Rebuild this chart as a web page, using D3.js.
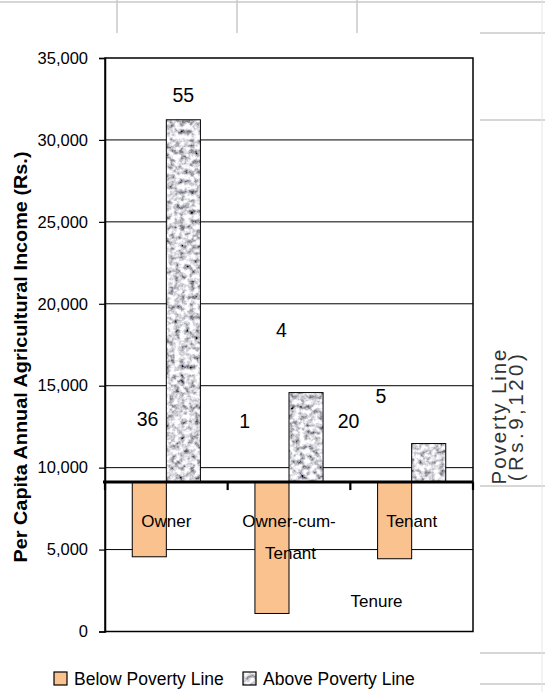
<!DOCTYPE html>
<html>
<head>
<meta charset="utf-8">
<script src="https://cdn.jsdelivr.net/npm/d3@7"></script>
<style>
  html, body { margin: 0; padding: 0; background: #fff; }
  svg { display: block; font-family: "Liberation Sans", Arial, sans-serif; }
</style>
</head>
<body>
<svg id="chart" width="545" height="692"></svg>
<script>
// ---- data ----
const categories = ["Owner", "Owner-cum-Tenant", "Tenant"];
const categoryLines = [["Owner"], ["Owner-cum-", "Tenant"], ["Tenant"]];
const seriesNames = ["Below Poverty Line", "Above Poverty Line"];
const belowValues = [4560, 1100, 4440];
const aboveValues = [31230, 14580, 11470];
const povertyLine = 9120;
const yTicks = [0, 5000, 10000, 15000, 20000, 25000, 30000, 35000];
// stray data labels as they appear in the chart: text, category, value level, offset (in bar widths)
const dataLabels = [
  { text: "55", cat: 0, level: 32300, off: 0.5 },
  { text: "36", cat: 0, level: 12520, off: -0.55 },
  { text: "4",  cat: 1, level: 17950, off: -0.22 },
  { text: "1",  cat: 1, level: 12400, off: -1.3 },
  { text: "20", cat: 1, level: 12400, off: 1.75 },
  { text: "5",  cat: 2, level: 13920, off: -0.9 }
];
const axisTitle = "Per Capita Annual Agricultural Income (Rs.)";
const xTitle = "Tenure";
const sideLines = ["Poverty Line", "(Rs.9,120)"];

// ---- layout ----
const L = 105, R = 473, T = 58, B = 631.5;
const svg = d3.select("#chart");

// faint spreadsheet cell borders behind the chart
const cellColor = "#c9c9c9";
const bg = svg.append("g").attr("stroke", cellColor).attr("stroke-width", 1.5);
bg.append("line").attr("x1", 0).attr("x2", 545).attr("y1", 2).attr("y2", 2);
[117, 237, 357].forEach(x => bg.append("line").attr("x1", x).attr("x2", x).attr("y1", 0).attr("y2", 33));
[33, 120, 486, 653, 684].forEach(yy => bg.append("line").attr("x1", 480).attr("x2", 545).attr("y1", yy).attr("y2", yy));
bg.append("line").attr("x1", 542).attr("x2", 542).attr("y1", 0).attr("y2", 692).attr("stroke", "#e6e6e6").attr("stroke-width", 1);

// texture for above-poverty bars
const defs = svg.append("defs");
const f = defs.append("filter").attr("id", "granite")
  .attr("x", 0).attr("y", 0).attr("width", 1).attr("height", 1)
  .attr("filterUnits", "objectBoundingBox");
f.append("feTurbulence").attr("type", "fractalNoise").attr("baseFrequency", 0.2)
  .attr("numOctaves", 3).attr("seed", 11).attr("result", "noise");
f.append("feColorMatrix").attr("in", "noise").attr("type", "matrix")
  .attr("values", "1.9 0 0 0 -0.26  1.9 0 0 0 -0.26  1.9 0 0 0 -0.22  0 0 0 0 1").attr("result", "gray");
f.append("feComposite").attr("in", "gray").attr("in2", "SourceGraphic").attr("operator", "in");

const y = d3.scaleLinear().domain([0, 35000]).range([B, T]);
const x0 = d3.scaleBand().domain(categories).range([L, R]).paddingInner(0).paddingOuter(0);
const x1 = d3.scaleBand().domain(seriesNames).range([0, x0.bandwidth()]).paddingInner(0).paddingOuter(0.8);
const bw = x1.bandwidth();

// gridlines
svg.append("g").selectAll("line").data(yTicks.filter(v => v > 0 && v < 35000)).join("line")
  .attr("x1", L).attr("x2", R).attr("y1", d => y(d)).attr("y2", d => y(d))
  .attr("stroke", "#000").attr("stroke-width", 1);

// bars
const rows = categories.map((c, i) => ({ c, below: belowValues[i], above: aboveValues[i] }));
const gb = svg.append("g");
gb.selectAll("rect.below").data(rows).join("rect").attr("class", "below")
  .attr("x", d => x0(d.c) + x1(seriesNames[0])).attr("width", bw)
  .attr("y", y(povertyLine)).attr("height", d => y(d.below) - y(povertyLine))
  .attr("fill", "#f9c28f").attr("stroke", "#000").attr("stroke-width", 1);
gb.selectAll("rect.abovefill").data(rows).join("rect").attr("class", "abovefill")
  .attr("x", d => x0(d.c) + x1(seriesNames[1])).attr("width", bw)
  .attr("y", d => y(d.above)).attr("height", d => y(povertyLine) - y(d.above))
  .attr("fill", "#aaa").attr("filter", "url(#granite)");
gb.selectAll("rect.aboveedge").data(rows).join("rect").attr("class", "aboveedge")
  .attr("x", d => x0(d.c) + x1(seriesNames[1])).attr("width", bw)
  .attr("y", d => y(d.above)).attr("height", d => y(povertyLine) - y(d.above))
  .attr("fill", "none").attr("stroke", "#000").attr("stroke-width", 1);

// plot border
svg.append("rect").attr("x", L).attr("y", T).attr("width", R - L).attr("height", B - T)
  .attr("fill", "none").attr("stroke", "#000").attr("stroke-width", 1.5);

// y axis
const ya = svg.append("g").attr("transform", `translate(${L},0)`)
  .call(d3.axisLeft(y).tickValues(yTicks).tickSize(6).tickPadding(11).tickFormat(d3.format(",")));
ya.select(".domain").attr("stroke", "#000").attr("stroke-width", 1.5);
ya.selectAll(".tick line").attr("stroke", "#000").attr("stroke-width", 1.2);
ya.selectAll(".tick text").attr("font-size", 16.5).attr("fill", "#000")
  .attr("font-family", "Liberation Sans, Arial, sans-serif");

// category axis at the poverty line
const yb = y(povertyLine);
const bounds = categories.map(c => x0(c)).concat([x0.range()[1]]);
svg.append("line").attr("x1", L - 2).attr("x2", R).attr("y1", yb).attr("y2", yb)
  .attr("stroke", "#000").attr("stroke-width", 3);
svg.append("g").selectAll("line").data(bounds).join("line")
  .attr("x1", d => d).attr("x2", d => d).attr("y1", yb).attr("y2", yb + 8)
  .attr("stroke", "#000").attr("stroke-width", 2.2);

// category labels
const cl = svg.append("g").attr("font-size", 17).attr("fill", "#000").attr("text-anchor", "middle");
categoryLines.forEach((lines, i) => {
  lines.forEach((t, j) => {
    cl.append("text").attr("x", x0(categories[i]) + x0.bandwidth() / 2 + j * 1.5)
      .attr("y", yb + 45 + j * 31.5).text(t);
  });
});
// x title
svg.append("text").attr("x", x0(categories[2]) + x1(seriesNames[0]) - 1).attr("y", y(1480))
  .attr("text-anchor", "middle").attr("font-size", 17).text(xTitle);

// data labels
svg.append("g").selectAll("text").data(dataLabels).join("text")
  .attr("x", d => x0(categories[d.cat]) + x0.bandwidth() / 2 + d.off * bw)
  .attr("y", d => y(d.level)).attr("text-anchor", "middle").attr("font-size", 19.5)
  .attr("fill", "#000").text(d => d.text);

// y axis title
svg.append("text").attr("transform", "translate(27,357) rotate(-90)")
  .attr("text-anchor", "middle").attr("font-weight", "bold").attr("font-size", 18)
  .attr("textLength", 411).attr("lengthAdjust", "spacingAndGlyphs").text(axisTitle);

// right side annotation
const sideX = [506, 523];
const sideSpacing = [1.9, 3.5];
sideLines.forEach((t, i) => {
  svg.append("text").attr("transform", `translate(${sideX[i]},416) rotate(-90)`)
    .attr("text-anchor", "middle").attr("font-size", 20.5).attr("fill", "#333")
    .attr("letter-spacing", sideSpacing[i]).text(t);
});

// legend
const legX = [54, 243];
const lg = svg.append("g");
seriesNames.forEach((s, i) => {
  const r = lg.append("rect").attr("x", legX[i]).attr("y", 672).attr("width", 13).attr("height", 13);
  if (i === 0) r.attr("fill", "#f9c28f");
  else r.attr("fill", "#aaa").attr("filter", "url(#granite)");
  lg.append("rect").attr("x", legX[i]).attr("y", 672).attr("width", 13).attr("height", 13)
    .attr("fill", "none").attr("stroke", "#000").attr("stroke-width", 1.2);
  lg.append("text").attr("x", legX[i] + 20).attr("y", 685).attr("font-size", 17.5)
    .attr("fill", "#000").text(s);
});
</script>
</body>
</html>
